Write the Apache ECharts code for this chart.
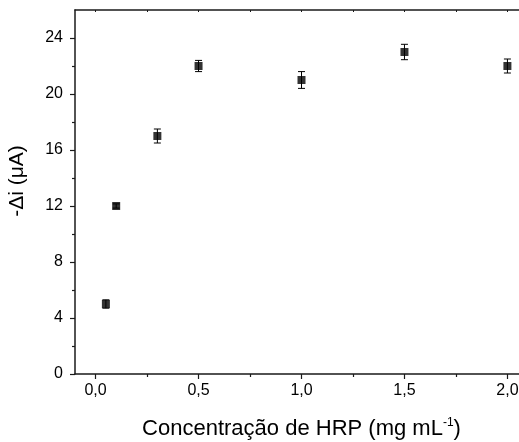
<!DOCTYPE html>
<html>
<head>
<meta charset="utf-8">
<script src="https://cdn.jsdelivr.net/npm/echarts@6/dist/echarts.min.js"></script>
<style>
html,body{margin:0;padding:0;background:#fff;}
#c{width:519px;height:442px;}
</style>
</head>
<body>
<div id="c"></div>
<script>
var concentrations = [0.05, 0.1, 0.3, 0.5, 1.0, 1.5, 2.0];
var deltaI = [5, 12, 17, 22, 21, 23, 22];
var errors = [0.3, 0.15, 0.5, 0.4, 0.6, 0.55, 0.5];
var xMajorTicks = [0, 0.5, 1.0, 1.5, 2.0];
var xMinorTicks = [0.25, 0.75, 1.25, 1.75];
var yMajorTicks = [0, 4, 8, 12, 16, 20, 24];
var yMinorTicks = [2, 6, 10, 14, 18, 22];

var FONT = 'Liberation Sans, Arial, sans-serif';
var lineC = '#1a1a1a';

var points = concentrations.map(function (x, i) { return [x, deltaI[i]]; });
var errData = concentrations.map(function (x, i) { return [x, deltaI[i] - errors[i], deltaI[i] + errors[i]]; });

var chart = echarts.init(document.getElementById('c'), null, {renderer: 'canvas'});

var xBase = {min: -0.1, max: 2.1, type: 'value', splitLine: {show: false}};
var yBase = {min: 0, max: 26, type: 'value', splitLine: {show: false}};

chart.setOption({
  animation: false,
  backgroundColor: '#fff',
  grid: {left: 75, top: 10, width: 453, height: 364, containLabel: false, outerBoundsMode: 'none'},
  xAxis: [
    Object.assign({}, xBase, {
      position: 'bottom',
      axisLine: {show: true, onZero: false, lineStyle: {color: lineC, width: 1.5}},
      axisTick: {show: true, inside: false, length: 5, customValues: xMajorTicks, lineStyle: {color: lineC, width: 1.2}},
      axisLabel: {show: true, customValues: xMajorTicks, margin: 9, fontFamily: FONT, fontSize: 16, color: '#000',
        formatter: function (v) { return v.toFixed(1).replace('.', ','); }},
      name: 'Concentração de HRP (mg mL{sup|-1})',
      nameLocation: 'middle',
      nameGap: 43,
      nameTextStyle: {fontFamily: FONT, fontSize: 22, color: '#000', lineHeight: 24,
        rich: {sup: {fontFamily: FONT, fontSize: 12, verticalAlign: 'top', lineHeight: 24, color: '#000'}}}
    }),
    Object.assign({}, xBase, {
      position: 'bottom',
      axisLine: {show: false, onZero: false},
      axisTick: {show: true, inside: false, length: 3, customValues: xMinorTicks, lineStyle: {color: lineC, width: 1.2}},
      axisLabel: {show: false}
    }),
    Object.assign({}, xBase, {
      position: 'top',
      axisLine: {show: true, onZero: false, lineStyle: {color: lineC, width: 1.5}},
      axisTick: {show: true, inside: true, length: 2, customValues: xMajorTicks.concat(xMinorTicks), lineStyle: {color: lineC, width: 1}},
      axisLabel: {show: false}
    })
  ],
  yAxis: [
    Object.assign({}, yBase, {
      position: 'left',
      axisLine: {show: true, onZero: false, lineStyle: {color: lineC, width: 1.5}},
      axisTick: {show: true, inside: false, length: 5, customValues: yMajorTicks, lineStyle: {color: lineC, width: 1.2}},
      axisLabel: {show: true, customValues: yMajorTicks, margin: 12, fontFamily: FONT, fontSize: 16, color: '#000'},
      name: '-\u0394i (\u03bcA)',
      nameLocation: 'middle',
      nameGap: 47,
      nameRotate: 90,
      nameTextStyle: {fontFamily: FONT, fontSize: 21, color: '#000', padding: [0, 0, 0, 22]}
    }),
    Object.assign({}, yBase, {
      position: 'left',
      axisLine: {show: false, onZero: false},
      axisTick: {show: true, inside: false, length: 3, customValues: yMinorTicks, lineStyle: {color: lineC, width: 1.2}},
      axisLabel: {show: false}
    })
  ],
  series: [
    {
      type: 'custom',
      xAxisIndex: 0, yAxisIndex: 0,
      data: errData,
      z: 2,
      renderItem: function (params, api) {
        var x = api.value(0);
        var lo = api.coord([x, api.value(1)]);
        var hi = api.coord([x, api.value(2)]);
        var hw = 3.5;
        var st = {stroke: '#000', lineWidth: 1};
        return {
          type: 'group',
          children: [
            {type: 'line', shape: {x1: lo[0], y1: lo[1], x2: hi[0], y2: hi[1]}, style: st},
            {type: 'line', shape: {x1: lo[0] - hw, y1: lo[1], x2: lo[0] + hw, y2: lo[1]}, style: st},
            {type: 'line', shape: {x1: hi[0] - hw, y1: hi[1], x2: hi[0] + hw, y2: hi[1]}, style: st}
          ]
        };
      }
    },
    {
      type: 'scatter',
      xAxisIndex: 0, yAxisIndex: 0,
      data: points,
      symbol: 'rect',
      symbolSize: 8,
      itemStyle: {color: '#000'},
      z: 3
    }
  ]
});
</script>
</body>
</html>
